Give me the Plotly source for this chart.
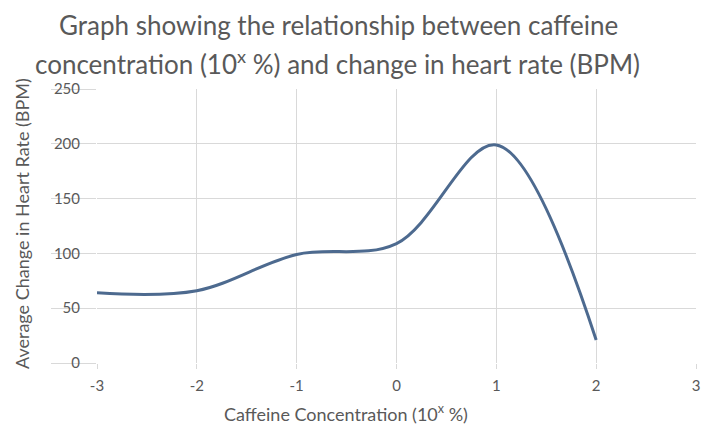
import plotly.graph_objects as go

# Data
concentration_log = [-3, -2, -1, 0, 1, 2]
heart_rate_change = [64, 66, 99, 109, 199, 21]

x_ticks = [-3, -2, -1, 0, 1, 2, 3]
y_ticks = [0, 50, 100, 150, 200, 250]

title_line1 = "Graph showing the relationship between caffeine"
title_line2 = "concentration (10<sup>x</sup> %) and change in heart rate (BPM)"
x_title = "Caffeine Concentration (10<sup>x</sup> %)"
y_title = "Average Change in Heart Rate (BPM)"

FONT = "Lato"
GREY = "#595959"
GRID = "#d9d9d9"

# page has an 8px body margin; figure sized so the plot lands where the reference has it
OFF = 8
W, H = 720 - OFF, 441 - OFF
L, T = 97 - OFF, 89 - OFF
R = W - (696 - OFF)
B = H - (363 - OFF)
PW = W - L - R
PH = H - T - B


def px_x(page_x):
    return (page_x - OFF - L) / PW


def px_y(page_y):
    return 1 - (page_y - OFF - T) / PH


fig = go.Figure()
fig.add_trace(go.Scatter(
    x=concentration_log, y=heart_rate_change,
    mode="lines",
    line=dict(color="#4d6a8f", width=3, shape="spline", smoothing=1),
    showlegend=False,
))

fig.update_layout(
    width=W, height=H,
    margin=dict(l=L, r=R, t=T, b=B, autoexpand=False),
    paper_bgcolor="white", plot_bgcolor="white",
    font=dict(family=FONT, color=GREY, size=15),
    xaxis=dict(
        range=[-3, 3], tickvals=x_ticks, ticktext=[str(v) for v in x_ticks],
        showgrid=True, gridcolor=GRID, gridwidth=1,
        zeroline=False, showline=False,
        ticks="outside", ticklen=5, tickcolor=GRID,
        ticklabelstandoff=4,
        tickfont=dict(size=15, color=GREY),
    ),
    yaxis=dict(
        range=[0, 250], tickvals=y_ticks, ticktext=[str(v) for v in y_ticks],
        showgrid=True, gridcolor=GRID, gridwidth=1,
        zeroline=False, showline=False,
        ticks="outside", ticklen=45, tickcolor=GRID,
        ticklabelstandoff=-32,
        tickfont=dict(size=15, color=GREY),
    ),
    annotations=[
        dict(text=title_line1, xref="paper", yref="paper", x=px_x(338), y=px_y(25),
             showarrow=False, xanchor="center", yanchor="middle", font=dict(size=26, color=GREY, family=FONT)),
        dict(text=title_line2, xref="paper", yref="paper", x=px_x(337), y=px_y(62),
             showarrow=False, xanchor="center", yanchor="middle", font=dict(size=26, color=GREY, family=FONT)),
        dict(text=x_title, xref="paper", yref="paper", x=px_x(346), y=px_y(413),
             showarrow=False, xanchor="center", yanchor="middle", font=dict(size=18, color=GREY, family=FONT)),
        dict(text=y_title, xref="paper", yref="paper", x=px_x(22), y=px_y(224), textangle=-90,
             showarrow=False, xanchor="center", yanchor="middle", font=dict(size=18, color=GREY, family=FONT)),
    ],
)

fig.write_html("out.html")
